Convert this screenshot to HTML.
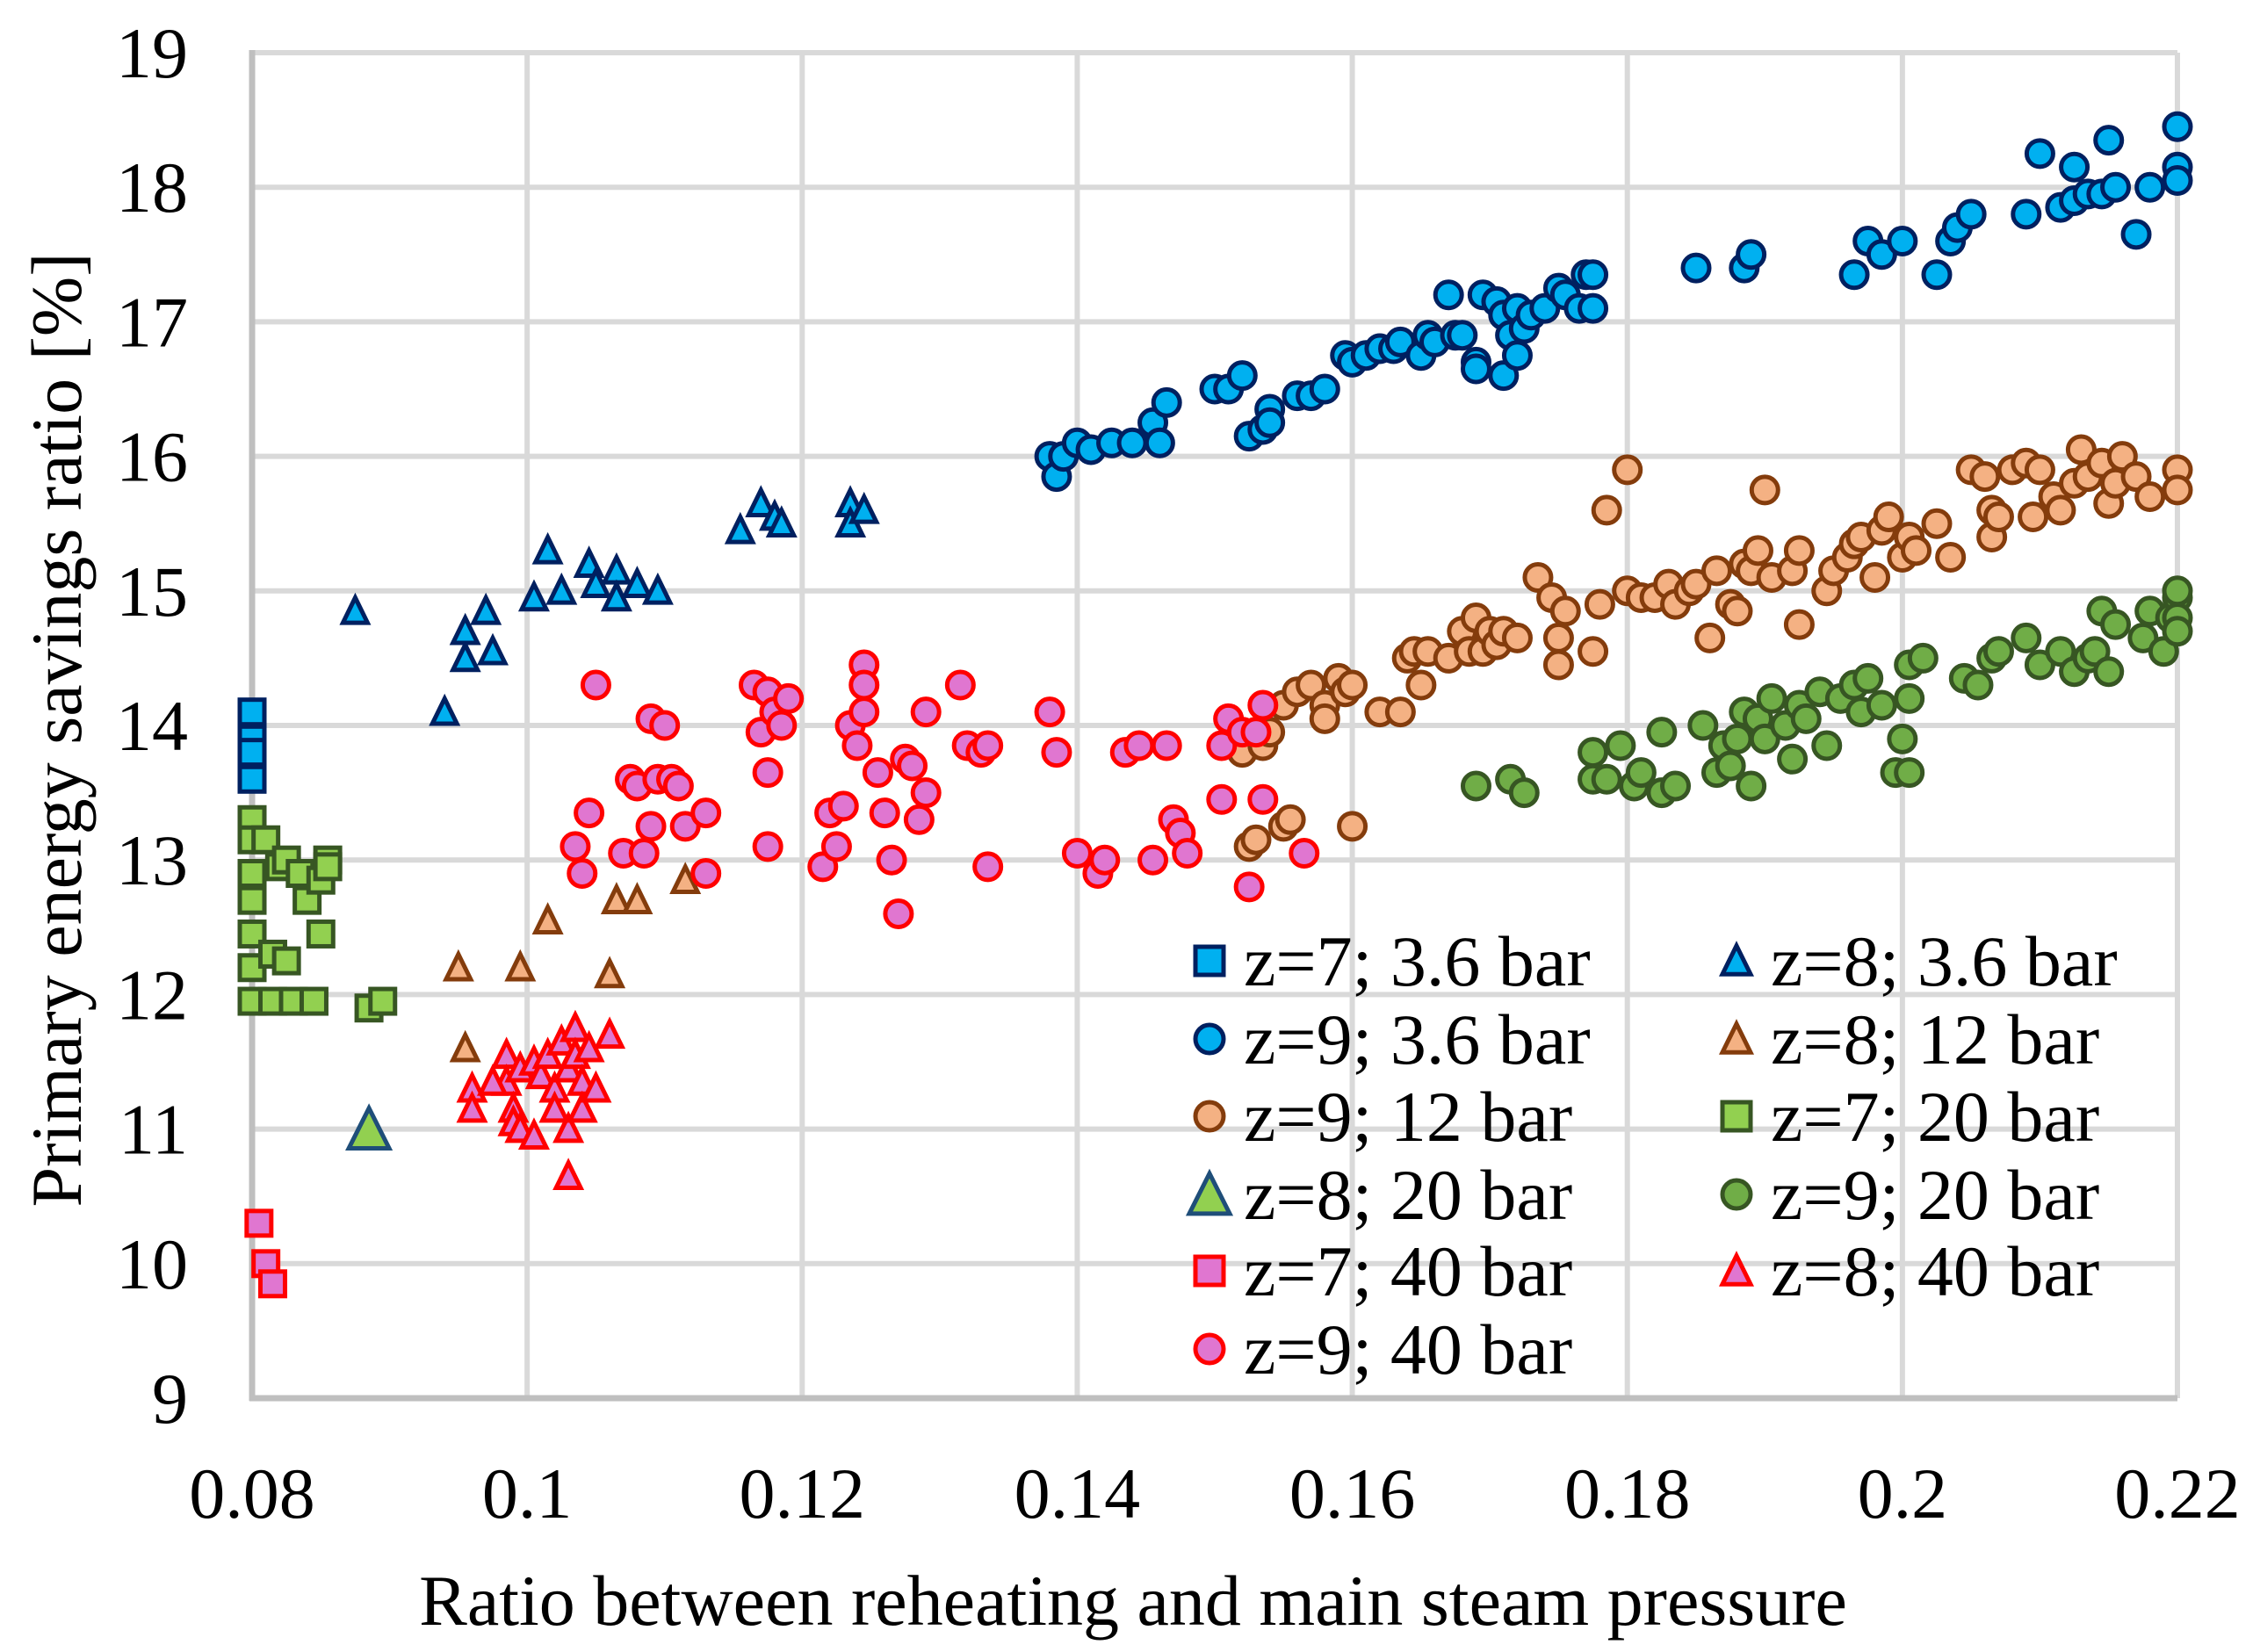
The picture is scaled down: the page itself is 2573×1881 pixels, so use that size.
<!DOCTYPE html>
<html><head><meta charset="utf-8"><style>
html,body{margin:0;padding:0;background:#fff;}
svg{display:block;font-family:"Liberation Serif",serif;}
</style></head><body>
<svg id="chart" width="2573" height="1881" viewBox="0 0 2573 1881" xmlns="http://www.w3.org/2000/svg">
<rect width="2573" height="1881" fill="#fff"/>
<g id="grid"></g>
<g id="axes"></g>
<g id="marks"></g>
<g id="legend"></g>
<text x="1290" y="1850" font-size="82" text-anchor="middle">Ratio between reheating and main steam pressure</text>
<text transform="translate(92,831) rotate(-90)" font-size="82" text-anchor="middle">Primary energy savings ratio [%]</text>
</svg>
<script>
const xTicks=[0.08,0.1,0.12,0.14,0.16,0.18,0.2,0.22];
const xTickLabels=["0.08","0.1","0.12","0.14","0.16","0.18","0.2","0.22"];
const yTicks=[9,10,11,12,13,14,15,16,17,18,19];
const yTickLabels=["9","10","11","12","13","14","15","16","17","18","19"];
const seriesNames=["z=7; 3.6 bar","z=8; 3.6 bar","z=9; 3.6 bar","z=8; 12 bar","z=9; 12 bar","z=7; 20 bar","z=8; 20 bar","z=9; 20 bar","z=7; 40 bar","z=8; 40 bar","z=9; 40 bar"];
const s_z7_36=[[0.08,14.1],[0.08,13.9],[0.08,13.8],[0.08,13.6]];
const s_z8_36=[[0.0875,14.85],[0.094,14.1],[0.0955,14.5],[0.0955,14.7],[0.097,14.85],[0.0975,14.55],[0.1005,14.95],[0.1015,15.3],[0.1025,15.0],[0.1045,15.2],[0.105,15.05],[0.1065,15.15],[0.1065,14.95],[0.108,15.05],[0.1095,15.0],[0.1155,15.45],[0.117,15.65],[0.118,15.55],[0.1185,15.5],[0.1235,15.65],[0.1235,15.5],[0.1245,15.6]];
const s_z9_36=[[0.138,16.0],[0.1385,15.85],[0.139,16.0],[0.14,16.1],[0.141,16.05],[0.1425,16.1],[0.144,16.1],[0.1455,16.25],[0.146,16.1],[0.1465,16.4],[0.15,16.5],[0.151,16.5],[0.152,16.6],[0.1525,16.15],[0.1535,16.2],[0.154,16.35],[0.154,16.25],[0.156,16.45],[0.157,16.45],[0.158,16.5],[0.1595,16.75],[0.16,16.7],[0.161,16.75],[0.162,16.8],[0.163,16.8],[0.1635,16.85],[0.165,16.75],[0.1655,16.9],[0.166,16.85],[0.167,17.2],[0.1675,16.9],[0.168,16.9],[0.169,16.7],[0.169,16.65],[0.1695,17.2],[0.1705,17.15],[0.171,16.6],[0.171,17.05],[0.1715,16.9],[0.172,17.1],[0.172,16.75],[0.1725,16.95],[0.173,17.05],[0.174,17.1],[0.175,17.25],[0.1755,17.2],[0.1765,17.1],[0.177,17.35],[0.1775,17.35],[0.1775,17.1],[0.185,17.4],[0.1885,17.4],[0.189,17.5],[0.1965,17.35],[0.1975,17.6],[0.1985,17.5],[0.2,17.6],[0.2025,17.35],[0.2035,17.6],[0.204,17.7],[0.205,17.8],[0.209,17.8],[0.21,18.25],[0.2115,17.85],[0.2125,18.15],[0.2125,17.9],[0.2135,17.95],[0.2145,17.95],[0.215,18.35],[0.2155,18.0],[0.217,17.65],[0.218,18.0],[0.22,18.45],[0.22,18.15],[0.22,18.05]];
const s_z8_12=[[0.095,12.2],[0.0955,11.6],[0.0995,12.2],[0.1015,12.55],[0.1065,12.7],[0.108,12.7],[0.1115,12.85],[0.106,12.15]];
const s_z9_12=[[0.152,13.8],[0.1525,13.1],[0.153,13.15],[0.1535,13.85],[0.154,13.95],[0.155,13.25],[0.1555,13.3],[0.155,14.15],[0.156,14.25],[0.157,14.3],[0.158,14.15],[0.158,14.05],[0.159,14.35],[0.1595,14.25],[0.16,13.25],[0.16,14.3],[0.162,14.1],[0.1635,14.1],[0.164,14.5],[0.1645,14.55],[0.165,14.3],[0.1655,14.55],[0.167,14.5],[0.168,14.7],[0.1685,14.55],[0.169,14.8],[0.1695,14.55],[0.17,14.7],[0.1705,14.6],[0.171,14.7],[0.172,14.65],[0.1735,15.1],[0.1745,14.95],[0.175,14.65],[0.175,14.45],[0.1755,14.85],[0.1775,14.55],[0.178,14.9],[0.1785,15.6],[0.18,15.9],[0.18,15.0],[0.181,14.95],[0.182,14.95],[0.183,15.05],[0.1835,14.9],[0.1845,15.0],[0.185,15.05],[0.186,14.65],[0.1865,15.15],[0.1875,14.9],[0.188,14.85],[0.1885,15.2],[0.189,15.15],[0.1895,15.3],[0.19,15.75],[0.1905,15.1],[0.192,15.15],[0.1925,14.75],[0.1925,15.3],[0.1945,15.0],[0.195,15.15],[0.196,15.25],[0.1965,15.35],[0.197,15.4],[0.198,15.1],[0.1985,15.45],[0.199,15.55],[0.2,15.25],[0.2005,15.4],[0.201,15.3],[0.2025,15.5],[0.2035,15.25],[0.205,15.9],[0.206,15.85],[0.2065,15.6],[0.2065,15.4],[0.207,15.55],[0.208,15.9],[0.209,15.95],[0.2095,15.55],[0.21,15.9],[0.211,15.7],[0.2115,15.6],[0.2125,15.8],[0.213,16.05],[0.2135,15.85],[0.2145,15.95],[0.215,15.65],[0.2155,15.8],[0.216,16.0],[0.217,15.85],[0.218,15.7],[0.22,15.9],[0.22,15.75]];
const s_z7_20=[[0.08,13.3],[0.08,13.15],[0.08,12.9],[0.08,12.7],[0.08,12.45],[0.08,12.2],[0.08,11.95],[0.081,13.15],[0.0815,12.3],[0.0815,11.95],[0.082,12.95],[0.0825,13.0],[0.0825,12.25],[0.083,11.95],[0.0835,12.9],[0.084,12.7],[0.0845,11.95],[0.085,12.45],[0.085,12.85],[0.0855,13.0],[0.0855,12.95],[0.0885,11.9],[0.0895,11.95]];
const s_z8_20=[[0.0885,11.0]];
const s_z9_20=[[0.169,13.55],[0.1715,13.6],[0.1725,13.5],[0.1775,13.8],[0.1775,13.6],[0.1785,13.6],[0.1795,13.85],[0.1805,13.55],[0.181,13.65],[0.1825,13.95],[0.1825,13.5],[0.1835,13.55],[0.1855,14.0],[0.1865,13.65],[0.187,13.85],[0.1875,13.7],[0.188,13.9],[0.1885,14.1],[0.189,13.55],[0.1895,14.05],[0.19,13.9],[0.1905,14.2],[0.1915,14.0],[0.192,13.75],[0.1925,14.15],[0.193,14.05],[0.194,14.25],[0.1945,13.85],[0.1955,14.2],[0.1965,14.3],[0.197,14.1],[0.1975,14.35],[0.1985,14.15],[0.1995,13.65],[0.2,13.9],[0.2005,13.65],[0.2005,14.45],[0.2015,14.5],[0.2005,14.2],[0.2045,14.35],[0.2055,14.3],[0.2065,14.5],[0.207,14.55],[0.209,14.65],[0.21,14.45],[0.2115,14.55],[0.2125,14.4],[0.2135,14.5],[0.214,14.55],[0.2145,14.85],[0.215,14.4],[0.2155,14.75],[0.2175,14.65],[0.218,14.85],[0.219,14.55],[0.2195,14.8],[0.22,14.95],[0.22,14.8],[0.22,14.7],[0.22,15.0]];
const s_z7_40=[[0.0805,10.3],[0.081,10.0],[0.0815,9.85]];
const s_z8_40=[[0.096,11.3],[0.096,11.15],[0.0985,11.55],[0.0985,11.35],[0.099,11.15],[0.099,11.05],[0.0995,11.45],[0.0995,11.0],[0.1005,11.5],[0.1005,10.95],[0.101,11.4],[0.1015,11.55],[0.102,11.3],[0.102,11.15],[0.1025,11.65],[0.103,11.45],[0.103,11.0],[0.103,10.65],[0.1035,11.75],[0.1035,11.55],[0.104,11.35],[0.104,11.15],[0.1045,11.6],[0.105,11.3],[0.106,11.7],[0.0975,11.35]];
const s_z9_40=[[0.1035,13.1],[0.104,12.9],[0.1045,13.35],[0.105,14.3],[0.107,13.05],[0.1075,13.6],[0.108,13.55],[0.1085,13.05],[0.109,14.05],[0.109,13.25],[0.1095,13.6],[0.11,14.0],[0.1105,13.6],[0.111,13.55],[0.1115,13.25],[0.113,13.35],[0.113,12.9],[0.1165,14.3],[0.117,13.95],[0.1175,14.25],[0.1175,13.65],[0.1175,13.1],[0.118,14.1],[0.1185,14.0],[0.119,14.2],[0.1215,12.95],[0.122,13.35],[0.1225,13.1],[0.123,13.4],[0.1235,14.0],[0.124,13.85],[0.1245,14.1],[0.1245,14.45],[0.1245,14.3],[0.1255,13.65],[0.126,13.35],[0.1265,13.0],[0.127,12.6],[0.1275,13.75],[0.128,13.7],[0.1285,13.3],[0.129,13.5],[0.129,14.1],[0.1315,14.3],[0.132,13.85],[0.133,13.8],[0.1335,13.85],[0.1335,12.95],[0.138,14.1],[0.1385,13.8],[0.14,13.05],[0.1415,12.9],[0.142,13.0],[0.1435,13.8],[0.1445,13.85],[0.1455,13.0],[0.1465,13.85],[0.147,13.3],[0.1475,13.2],[0.148,13.05],[0.1505,13.85],[0.1505,13.45],[0.151,14.05],[0.152,13.95],[0.1525,12.8],[0.153,13.95],[0.1535,14.15],[0.1535,13.45],[0.1565,13.05]];

const NS="http://www.w3.org/2000/svg";
const X0=287,X1=2479,Y0=1592,Y1=60;
function xs(v){return X0+(v-0.08)/(0.22-0.08)*(X1-X0);}
function ys(v){return Y0-(v-9)/(19-9)*(Y0-Y1);}
function mk(tag,attrs,parent){const e=document.createElementNS(NS,tag);for(const k in attrs)e.setAttribute(k,attrs[k]);parent.appendChild(e);return e;}
const grid=document.getElementById('grid'),axes=document.getElementById('axes'),marks=document.getElementById('marks'),legend=document.getElementById('legend');
yTicks.forEach((t,i)=>{
  if(i>0){const l=mk('line',{x1:X0,x2:X1,y1:ys(t),y2:ys(t),stroke:'#d9d9d9','stroke-width':6},grid);
  
  }
  const tx=mk('text',{x:214,y:ys(t)+28,'font-size':82,'text-anchor':'end'},axes);tx.textContent=yTickLabels[i];
  
  
});
xTicks.forEach((t,i)=>{
  if(i>0){const l=mk('line',{x1:xs(t),x2:xs(t),y1:Y1,y2:Y0,stroke:'#d9d9d9','stroke-width':6},grid);
  
  }
  const tx=mk('text',{x:xs(t),y:1728,'font-size':82,'text-anchor':'middle'},axes);tx.textContent=xTickLabels[i];
  
  
});
const ax1=mk('line',{x1:X0,x2:X0,y1:Y1-3,y2:Y0+3,stroke:'#bfbfbf','stroke-width':7},axes);


const ax2=mk('line',{x1:X0-3,x2:X1,y1:Y0,y2:Y0,stroke:'#bfbfbf','stroke-width':7},axes);



function marker(shape,cx,cy,fill,stroke,size,parent){
  let e;const sw=5;
  if(shape==='circle')e=mk('circle',{cx:cx,cy:cy,r:size/2,fill:fill,stroke:stroke,'stroke-width':sw},parent);
  else if(shape==='square')e=mk('rect',{x:cx-size/2,y:cy-size/2,width:size,height:size,fill:fill,stroke:stroke,'stroke-width':sw},parent);
  else {const h=size*0.95;e=mk('polygon',{points:`${cx},${cy-h/2-2} ${cx+size/2},${cy+h/2} ${cx-size/2},${cy+h/2}`,fill:fill,stroke:stroke,'stroke-width':sw,'stroke-linejoin':'miter'},parent);}
  return e;
}
const styles=[
 {d:s_z7_36,shape:'square',fill:'#00b0f0',stroke:'#002060',size:28},
 {d:s_z8_36,shape:'tri',fill:'#00b0f0',stroke:'#002060',size:28},
 {d:s_z9_36,shape:'circle',fill:'#00b0f0',stroke:'#002060',size:30},
 {d:s_z8_12,shape:'tri',fill:'#f4b183',stroke:'#843c0c',size:28},
 {d:s_z9_12,shape:'circle',fill:'#f4b183',stroke:'#843c0c',size:30},
 {d:s_z7_20,shape:'square',fill:'#92d050',stroke:'#375623',size:28},
 {d:s_z8_20,shape:'tri',fill:'#92d050',stroke:'#1f4e79',size:46},
 {d:s_z9_20,shape:'circle',fill:'#70ad47',stroke:'#375623',size:30},
 {d:s_z7_40,shape:'square',fill:'#e076d0',stroke:'#ff0000',size:28},
 {d:s_z8_40,shape:'tri',fill:'#e076d0',stroke:'#ff0000',size:28},
 {d:s_z9_40,shape:'circle',fill:'#e076d0',stroke:'#ff0000',size:30}
];
styles.forEach((s,si)=>{
  const g=mk('g',{},marks);
  
  
  s.d.forEach(p=>{
    const e=marker(s.shape,xs(p[0]),ys(p[1]),s.fill,s.stroke,s.size,g);
    
    
  });
});
const rowY=[1094,1183,1271,1360,1447,1536];
seriesNames.forEach((n,i)=>{
  const col=i%2,row=Math.floor(i/2);
  const g=mk('g',{},legend);
  
  
  const mx=col?1977:1377,y=rowY[row];
  const s=styles[i];
  marker(s.shape,mx,y,s.fill,s.stroke,s.size===46?46:32,g);
  const t=mk('text',{x:col?2016:1416,y:y+28,'font-size':82},g);t.textContent=n;
});
</script>
</body></html>
